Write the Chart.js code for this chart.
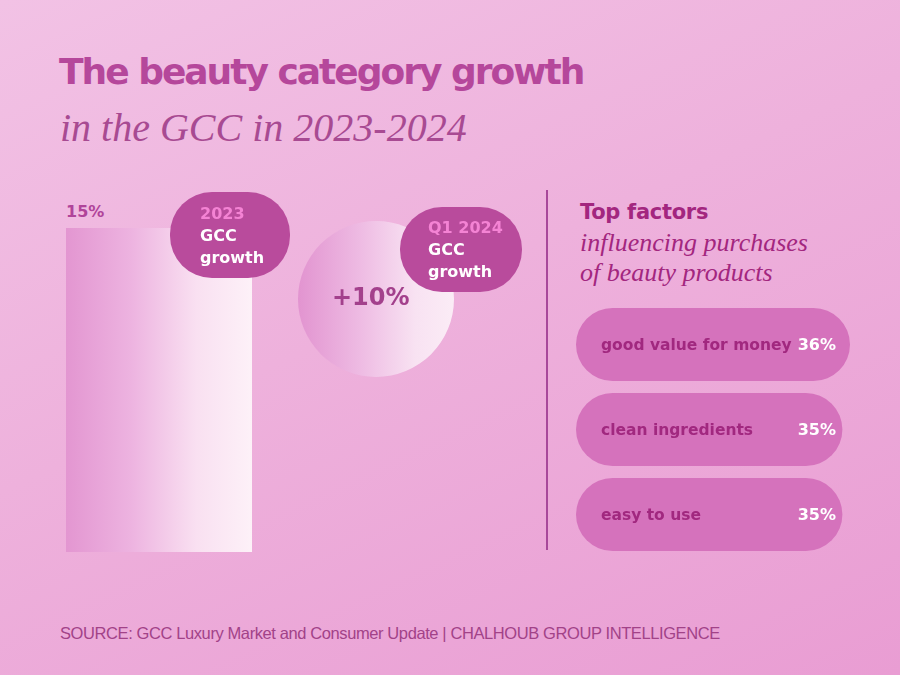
<!DOCTYPE html>
<html><head><meta charset="utf-8">
<script src="https://cdn.jsdelivr.net/npm/chart.js@4.4.1/dist/chart.umd.min.js"></script>
<style>
html,body{margin:0;padding:0;}
#page{position:relative;width:900px;height:675px;overflow:hidden;
 background:linear-gradient(155deg,#f2c2e5 0%,#eeb1dc 45%,#e99dd3 100%);
 font-family:"Noto Sans",sans-serif;}
.abs{position:absolute;}
#t1{left:59px;top:51px;font:700 36px "DejaVu Sans",sans-serif;color:#b5479b;letter-spacing:-2px;white-space:nowrap;}
#t2{left:60px;top:104px;font:italic 40px "Liberation Serif",serif;color:#a84a92;white-space:nowrap;}
.pill{background:#b94b9c;border-radius:42px;color:#fff;font:700 16px "DejaVu Sans",sans-serif;line-height:22px;box-sizing:border-box;}
.pill .yr{color:#f483d4;}
.val{font:700 16px "DejaVu Sans",sans-serif;color:#b0449a;white-space:nowrap;}
#vline{left:546px;top:190px;width:2px;height:360px;background:#a8489a;}
#rt1{left:580px;top:200px;font:700 21px "DejaVu Sans",sans-serif;color:#a3267f;letter-spacing:-0.3px;}
#rt2{left:580px;top:228px;font:italic 26px "Liberation Serif",serif;color:#a3267f;line-height:30px;white-space:nowrap;}
#src{left:60px;top:624px;font:16.5px "Liberation Sans",sans-serif;letter-spacing:-0.4px;color:#a24288;white-space:nowrap;}
canvas{position:absolute;}
</style></head>
<body><div id="page">
<div id="t1" class="abs">The beauty category growth</div>
<div id="t2" class="abs">in the GCC in 2023-2024</div>
<canvas id="barC" width="186" height="324" style="left:66px;top:228px;"></canvas>
<canvas id="pieC" width="156" height="156" style="left:298px;top:221px;"></canvas>
<div id="lbl15" class="abs val" style="left:66px;top:202px;"></div>
<div id="lbl10" class="abs val" style="left:332px;top:283px;font-size:24px;color:#a3408c;"></div>
<div id="pill1" class="abs pill" style="left:170px;top:192px;width:120px;height:86px;padding:11px 0 0 30px;"></div>
<div id="pill2" class="abs pill" style="left:400px;top:207px;width:122px;height:85px;padding:10px 0 0 28px;"></div>
<div id="vline" class="abs"></div>
<div id="rt1" class="abs">Top factors</div>
<div id="rt2" class="abs">influencing purchases<br>of beauty products</div>
<canvas id="facC" width="274" height="255" style="left:576px;top:302px;"></canvas>
<div id="src" class="abs">SOURCE: GCC Luxury Market and Consumer Update | CHALHOUB GROUP INTELLIGENCE</div>
</div>
<script>
// ---- data ----
const growthPeriods = ["2023", "Q1 2024"];
const growthValues = [15, 10];
const factorLabels = ["good value for money", "clean ingredients", "easy to use"];
const factorValues = [36, 35, 35];

document.getElementById('lbl15').textContent = growthValues[0] + '%';
document.getElementById('lbl10').textContent = '+' + growthValues[1] + '%';
document.getElementById('pill1').innerHTML = '<span class="yr">' + growthPeriods[0] + '</span><br>GCC<br>growth';
document.getElementById('pill2').innerHTML = '<span class="yr">' + growthPeriods[1] + '</span><br>GCC<br>growth';

Chart.defaults.animation = false;

function hGrad(chart, stops) {
  const a = chart.chartArea;
  if (!a) return stops[0][1];
  const g = chart.ctx.createLinearGradient(a.left, 0, a.right, 0);
  stops.forEach(s => g.addColorStop(s[0], s[1]));
  return g;
}

new Chart(document.getElementById('barC'), {
  type: 'bar',
  data: { labels: [growthPeriods[0]], datasets: [{ data: [growthValues[0]],
    backgroundColor: c => hGrad(c.chart, [[0,'#e396d1'],[0.35,'#edb3e0'],[0.7,'#f9e0f1'],[1,'#fdf1f8']]),
    barPercentage: 1, categoryPercentage: 1 }] },
  options: { responsive: false, layout: { padding: 0 },
    plugins: { legend: { display: false }, tooltip: { enabled: false } },
    scales: { x: { display: false }, y: { display: false, min: 0, max: growthValues[0] } } }
});

new Chart(document.getElementById('pieC'), {
  type: 'pie',
  data: { labels: [growthPeriods[1]], datasets: [{ data: [growthValues[1]], borderWidth: 0,
    backgroundColor: c => hGrad(c.chart, [[0,'#e294d0'],[0.4,'#eebbe3'],[0.75,'#f8e2f2'],[1,'#fbecf6']]) }] },
  options: { responsive: false, layout: { padding: 0 },
    plugins: { legend: { display: false }, tooltip: { enabled: false } } }
});

const factorText = {
  id: 'factorText',
  afterDatasetsDraw(chart) {
    const ctx = chart.ctx, meta = chart.getDatasetMeta(0), a = chart.chartArea;
    ctx.save();
    ctx.textBaseline = 'middle';
    meta.data.forEach((bar, i) => {
      ctx.font = '700 15.5px "DejaVu Sans", sans-serif';
      ctx.fillStyle = '#a1287f'; ctx.textAlign = 'left';
      ctx.fillText(factorLabels[i], a.left + 25, bar.y + 1);
      ctx.font = '700 16px "DejaVu Sans", sans-serif';
      ctx.fillStyle = '#ffffff'; ctx.textAlign = 'right';
      ctx.fillText(factorValues[i] + '%', a.right - 14, bar.y + 1);
    });
    ctx.restore();
  }
};

new Chart(document.getElementById('facC'), {
  type: 'bar',
  data: { labels: factorLabels, datasets: [{ data: factorValues, backgroundColor: '#d572bc',
    borderRadius: 37, borderSkipped: false, barPercentage: 0.86, categoryPercentage: 1 }] },
  options: { indexAxis: 'y', responsive: false, layout: { padding: 0 },
    plugins: { legend: { display: false }, tooltip: { enabled: false } },
    scales: { x: { display: false, min: 0, max: 36 }, y: { display: false } } },
  plugins: [factorText]
});
</script>
</body></html>
